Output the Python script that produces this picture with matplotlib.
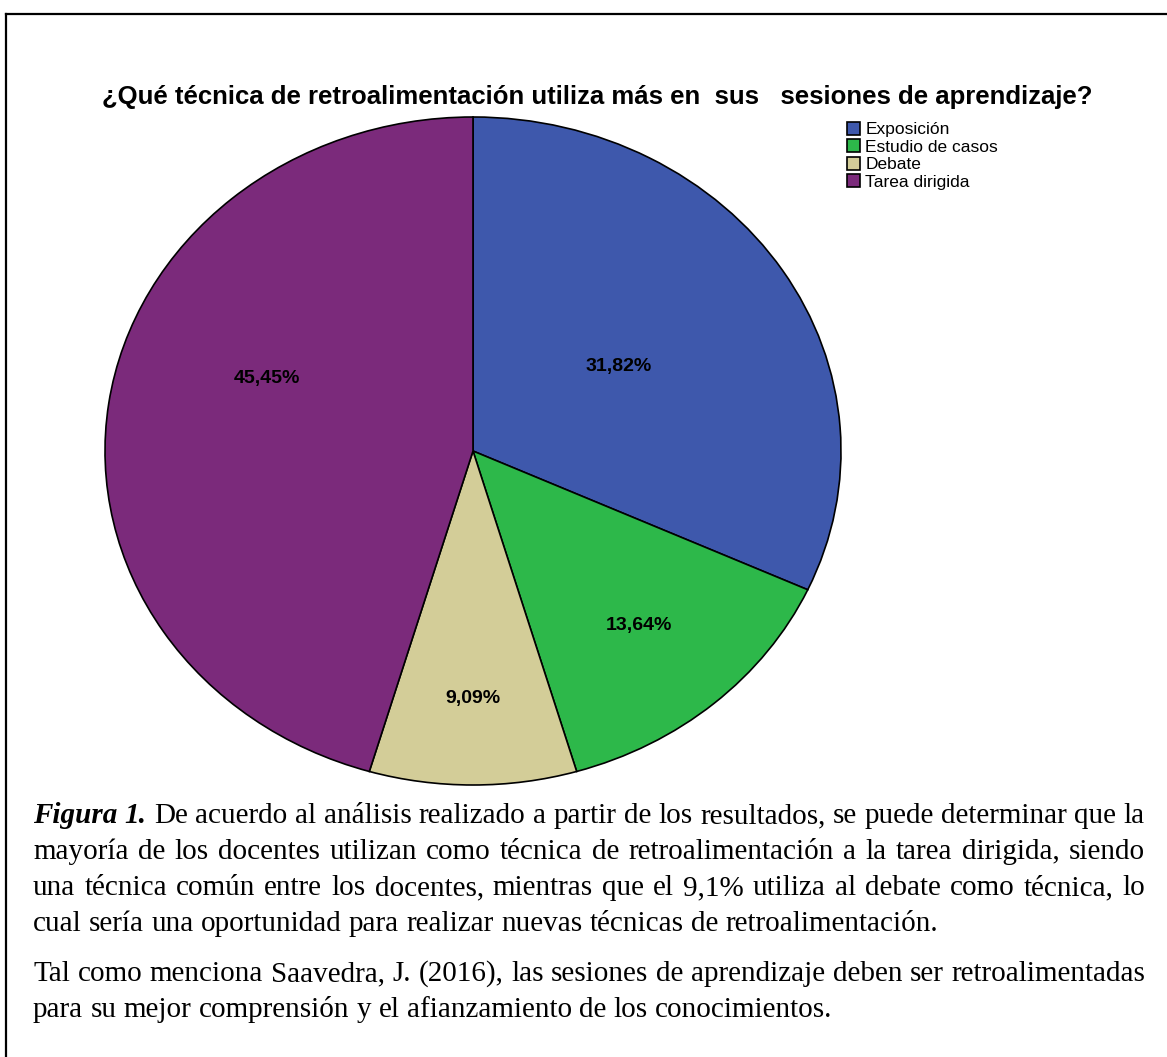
import matplotlib
matplotlib.use('Agg')
import matplotlib.pyplot as plt
from matplotlib.lines import Line2D
import numpy as np

# datos (n = 22)
categorias = ['Exposición', 'Estudio de casos', 'Debate', 'Tarea dirigida']
frecuencias = [7, 3, 2, 10]
porcentajes = ['31,82%', '13,64%', '9,09%', '45,45%']
colores = ['#3e58ac', '#2db84a', '#d3cd98', '#7b2a7b']

titulo = '¿Qué técnica de retroalimentación utiliza más en  sus   sesiones de aprendizaje?'

parrafo1 = [
    'De acuerdo al análisis realizado a partir de los resultados, se puede determinar que la',
    'mayoría de los docentes utilizan como técnica de retroalimentación a la tarea dirigida, siendo',
    'una técnica común entre los docentes, mientras que el 9,1% utiliza al debate como técnica, lo',
    'cual sería una oportunidad para realizar nuevas técnicas de retroalimentación.',
]
parrafo2 = [
    'Tal como menciona Saavedra, J. (2016), las sesiones de aprendizaje deben ser retroalimentadas',
    'para su mejor comprensión y el afianzamiento de los conocimientos.',
]

W, H = 1167, 1057
fig = plt.figure(figsize=(W / 100, H / 100), dpi=100)

# pie (eliptico, como en SPSS)
ax = fig.add_axes([105 / W, 1 - 785 / H, 736 / W, 668 / H])
wedges, _ = ax.pie(frecuencias, colors=colores, startangle=90, counterclock=False,
                   radius=1, wedgeprops=dict(edgecolor='black', linewidth=1.2))
ax.set_aspect('auto')
ax.set_xlim(-1, 1)
ax.set_ylim(-1, 1)
ax.axis('off')

dist = [0.47, 0.69, 0.74, 0.60]
giro = [0, 0, 0, -13]
for w, p, d, g in zip(wedges, porcentajes, dist, giro):
    ang = np.deg2rad((w.theta1 + w.theta2) / 2 + g)
    ax.text(d * np.cos(ang), d * np.sin(ang), p, ha='center', va='center',
            fontsize=14, fontweight='bold', family='Liberation Sans')

fig.text(597 / W, 1 - 97 / H, titulo, ha='center', va='center', fontsize=18.5,
         fontweight='bold', family='Liberation Sans')

fig.legend(wedges, categorias, loc='upper left', bbox_to_anchor=(847 / W, 1 - 122 / H),
           frameon=False, handlelength=0.75, handleheight=0.75, handletextpad=0.3,
           labelspacing=0.12, borderpad=0, borderaxespad=0,
           prop=dict(family='Liberation Sans', size=12.5))

# marco
fig.add_artist(Line2D([5.5 / W, 1], [1 - 13.5 / H, 1 - 13.5 / H], color='black', lw=1.6))
fig.add_artist(Line2D([5.5 / W, 5.5 / W], [0, 1 - 13.5 / H], color='black', lw=1.6))

# texto justificado
renderer = fig.canvas.get_renderer()
fs = 21
x0, x1 = 33, 1145


def linea(y, palabras, justificar):
    objs = [fig.text(0, 1 - y / H, t, fontsize=fs, family='Liberation Serif', va='baseline', **st)
            for t, st in palabras]
    anchos = [o.get_window_extent(renderer).width for o in objs]
    if justificar:
        hueco = (x1 - x0 - sum(anchos)) / (len(objs) - 1)
    else:
        hueco = fs * 100 / 72 * 0.25
    x = x0
    for o, a in zip(objs, anchos):
        o.set_x(x / W)
        x += a + hueco


bases = [823, 859, 895, 931, 981, 1017]
lineas = [(parrafo1[0], True, True), (parrafo1[1], True, False), (parrafo1[2], True, False),
          (parrafo1[3], False, False), (parrafo2[0], True, False), (parrafo2[1], False, False)]
for y, (txt, just, fig1) in zip(bases, lineas):
    palabras = [(p, {}) for p in txt.split()]
    if fig1:
        palabras = [('Figura', dict(fontweight='bold', style='italic')),
                    ('1.', dict(fontweight='bold', style='italic'))] + palabras
    linea(y, palabras, just)

fig.savefig('out.png', dpi=100)
